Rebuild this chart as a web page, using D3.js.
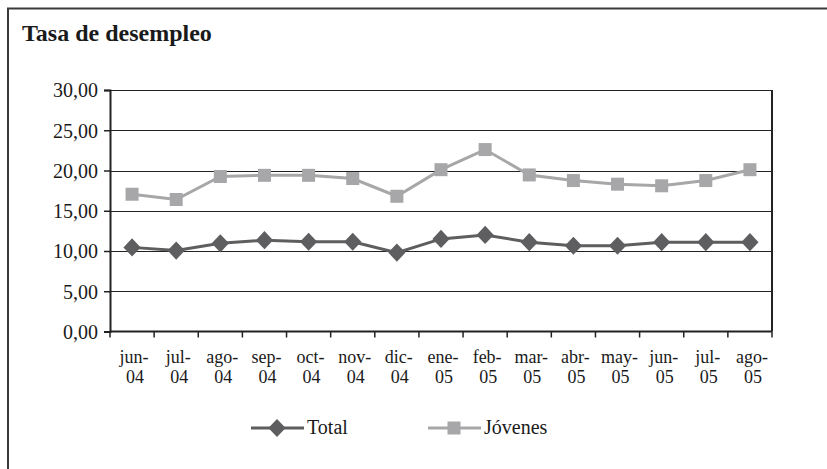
<!DOCTYPE html>
<html>
<head>
<meta charset="utf-8">
<script src="https://cdn.jsdelivr.net/npm/d3@7/dist/d3.min.js"></script>
<style>
  html, body { margin: 0; padding: 0; background: #fff; }
  svg { display: block; }
  text { font-family: "Liberation Serif", "DejaVu Serif", serif; fill: #1a1a1a; }
</style>
</head>
<body>
<svg id="chart" width="827" height="469"></svg>
<script>
// Monthly unemployment rates, June 2004 – August 2005
const months = ["jun-04","jul-04","ago-04","sep-04","oct-04","nov-04","dic-04","ene-05",
                "feb-05","mar-05","abr-05","may-05","jun-05","jul-05","ago-05"];
const total   = [10.45, 10.05, 10.95, 11.35, 11.15, 11.15, 9.8, 11.5, 12.0, 11.1, 10.65, 10.65, 11.1, 11.1, 11.1];
const jovenes = [17.05, 16.4, 19.25, 19.4, 19.4, 19.0, 16.8, 20.1, 22.6, 19.45, 18.75, 18.3, 18.1, 18.75, 20.1];
const yTicks  = [0, 5, 10, 15, 20, 25, 30];
const seriesNames = ["Total", "Jóvenes"];

const svg = d3.select("#chart");
const W = 827, H = 469;
const plot = { left: 110, right: 772, top: 90, bottom: 331.5 };

// Outer frame (runs off the right and bottom edges)
svg.append("rect")
  .attr("x", 8).attr("y", 8.5)
  .attr("width", W + 20).attr("height", H + 20)
  .attr("fill", "#fff").attr("stroke", "#3a3a3a").attr("stroke-width", 2);

svg.append("text")
  .attr("x", 22).attr("y", 41)
  .attr("font-size", 24).attr("font-weight", "bold")
  .text("Tasa de desempleo");

const x = d3.scaleBand().domain(months).range([plot.left, plot.right]);
const y = d3.scaleLinear().domain([0, 30]).range([plot.bottom, plot.top]);
const fmt = v => d3.format(".2f")(v).replace(".", ",");

// Horizontal gridlines
svg.append("g").selectAll("line")
  .data(yTicks.filter(t => t > 0))
  .join("line")
  .attr("x1", plot.left).attr("x2", plot.right)
  .attr("y1", d => Math.round(y(d)) + 0.5).attr("y2", d => Math.round(y(d)) + 0.5)
  .attr("stroke", "#222").attr("stroke-width", 1);

// Right border of plot area
svg.append("line")
  .attr("x1", plot.right).attr("x2", plot.right)
  .attr("y1", plot.top).attr("y2", plot.bottom)
  .attr("stroke", "#222").attr("stroke-width", 2);

// Y axis
const yAxis = svg.append("g")
  .attr("transform", `translate(${plot.left},0)`)
  .call(d3.axisLeft(y).tickValues(yTicks).tickFormat(fmt).tickSize(6).tickPadding(6));
yAxis.select(".domain").attr("stroke", "#222").attr("stroke-width", 2);
yAxis.selectAll(".tick line").attr("stroke", "#222").attr("stroke-width", 1.5);
yAxis.selectAll(".tick text")
  .attr("font-family", "Liberation Serif, serif").attr("font-size", 20).attr("fill", "#1a1a1a")
  .attr("dy", "0.34em");

// X axis: ticks at category boundaries, labels split on two lines
const boundaries = months.map(m => x(m)).concat([plot.right]);
const xg = svg.append("g");
xg.append("line")
  .attr("x1", plot.left).attr("x2", plot.right)
  .attr("y1", plot.bottom).attr("y2", plot.bottom)
  .attr("stroke", "#222").attr("stroke-width", 2);
xg.selectAll("line.tk").data(boundaries).join("line").attr("class", "tk")
  .attr("x1", d => d).attr("x2", d => d)
  .attr("y1", plot.bottom).attr("y2", plot.bottom + 6)
  .attr("stroke", "#222").attr("stroke-width", 1.5);
const labelX = d => x(d) + x.bandwidth() / 2 + 2;
const xl = xg.selectAll("text").data(months).join("text")
  .attr("text-anchor", "middle").attr("font-size", 18)
  .attr("x", labelX);
xl.append("tspan").attr("x", labelX).attr("y", 363)
  .text(d => d.split("-")[0] + "-");
xl.append("tspan").attr("x", d => labelX(d) + 1).attr("y", 383)
  .text(d => d.split("-")[1]);

const cx = (d, i) => x(months[i]) + x.bandwidth() / 2;
const line = d3.line().x(cx).y(d => y(d));

const colTotal = "#5e5e60", colJov = "#a7a7a9";
const diamond = d3.symbol().type(d3.symbolDiamond2).size(190);

// Jóvenes series
svg.append("path").datum(jovenes).attr("d", line)
  .attr("fill", "none").attr("stroke", colJov).attr("stroke-width", 3);
svg.append("g").selectAll("rect").data(jovenes).join("rect")
  .attr("x", (d, i) => cx(d, i) - 6.5).attr("y", d => y(d) - 6.5)
  .attr("width", 13).attr("height", 13).attr("fill", colJov);

// Total series
svg.append("path").datum(total).attr("d", line)
  .attr("fill", "none").attr("stroke", colTotal).attr("stroke-width", 3);
svg.append("g").selectAll("path").data(total).join("path")
  .attr("d", diamond)
  .attr("transform", (d, i) => `translate(${cx(d, i)},${y(d)}) scale(1,1.05)`)
  .attr("fill", colTotal);

// Legend
const legend = svg.append("g");
const items = [
  { name: seriesNames[0], x0: 251, color: colTotal, marker: "diamond" },
  { name: seriesNames[1], x0: 428, color: colJov, marker: "square" }
];
const ly = 428;
items.forEach(it => {
  legend.append("line")
    .attr("x1", it.x0).attr("x2", it.x0 + 53).attr("y1", ly).attr("y2", ly)
    .attr("stroke", it.color).attr("stroke-width", 3);
  if (it.marker === "diamond") {
    legend.append("path").attr("d", diamond)
      .attr("transform", `translate(${it.x0 + 26},${ly}) scale(1,1.05)`).attr("fill", it.color);
  } else {
    legend.append("rect").attr("x", it.x0 + 26 - 6.5).attr("y", ly - 6.5)
      .attr("width", 13).attr("height", 13).attr("fill", it.color);
  }
  legend.append("text").attr("x", it.x0 + 56).attr("y", ly + 6)
    .attr("font-size", 20).text(it.name);
});
</script>
</body>
</html>
